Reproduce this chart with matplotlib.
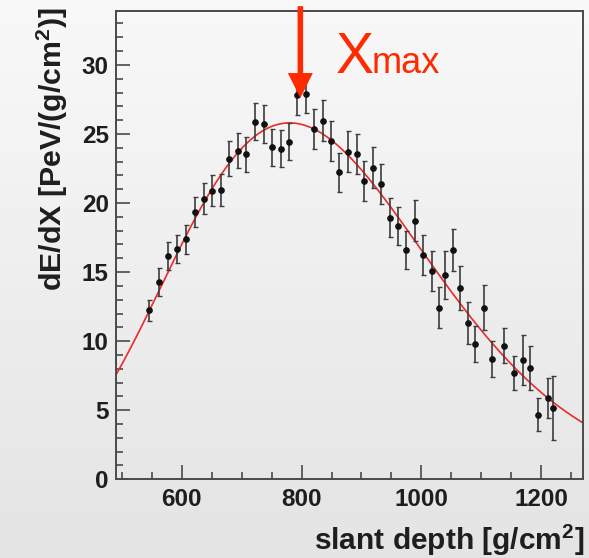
import numpy as np
import matplotlib
matplotlib.use("Agg")
import matplotlib.pyplot as plt
from matplotlib.patches import FancyArrowPatch
from matplotlib.ticker import MultipleLocator

# ---- data ----
depth = [546, 563, 578, 593, 608, 622, 637, 651, 666, 679, 694, 708, 723, 737,
         751, 765, 779, 793, 807, 821, 835, 849, 863, 877, 892, 905, 919, 933,
         947, 961, 975, 989, 1003, 1017, 1029, 1040, 1052, 1065, 1077, 1089,
         1104, 1118, 1137, 1154, 1169, 1181, 1195, 1211, 1220]
dedx = [12.24, 14.31, 16.17, 16.68, 17.38, 19.33, 20.30, 20.90, 20.95, 23.19,
        23.80, 23.53, 25.90, 25.73, 24.04, 23.92, 24.45, 27.83, 27.90, 25.37,
        25.97, 24.47, 22.23, 23.72, 23.56, 21.60, 22.57, 21.38, 18.95, 18.34,
        16.58, 18.73, 16.27, 15.08, 12.43, 14.79, 16.63, 13.88, 11.34, 9.80,
        12.43, 8.71, 9.68, 7.70, 8.64, 8.06, 4.68, 5.91, 5.16]
err = [0.75, 1.01, 1.04, 1.04, 1.06, 1.10, 1.13, 1.13, 1.17, 1.27, 1.27, 1.28,
       1.35, 1.38, 1.34, 1.34, 1.36, 1.45, 1.41, 1.44, 1.47, 1.45, 1.40, 1.46,
       1.47, 1.45, 1.50, 1.48, 1.39, 1.39, 1.38, 1.48, 1.45, 1.42, 1.47, 1.76,
       1.52, 1.59, 1.51, 1.28, 1.63, 1.27, 1.29, 1.24, 1.81, 1.56, 1.19, 1.45,
       2.34]

# Gaisser-Hillas fit parameters
XMAX = 780.0
NMAX = 25.8
X0 = 10.0
LAM = 60.0
ARROW_X = 798.0

xticks = [600, 800, 1000, 1200]
yticks = [0, 5, 10, 15, 20, 25, 30]

plt.rcParams['font.family'] = ['Liberation Sans', 'DejaVu Sans']
plt.rcParams['mathtext.fontset'] = 'custom'
plt.rcParams['mathtext.rm'] = 'Liberation Sans'
plt.rcParams['mathtext.bf'] = 'Liberation Sans:bold'

W, H = 589, 558
fig = plt.figure(figsize=(W / 100, H / 100), dpi=100)

# background gradient
bg = fig.add_axes([0, 0, 1, 1], zorder=-10)
grad = np.linspace(0, 1, 256).reshape(-1, 1)
top = np.array([0.975, 0.975, 0.975])
bot = np.array([0.895, 0.895, 0.895])
img = top[None, None, :] * (1 - grad[:, :, None]) + bot[None, None, :] * grad[:, :, None]
bg.imshow(img, aspect='auto', extent=[0, 1, 0, 1])
bg.axis('off')

def px(x0, y0, x1, y1):
    return [x0 / W, 1 - y1 / H, (x1 - x0) / W, (y1 - y0) / H]

ax = fig.add_axes(px(115.7, 11, 583.3, 479.3))
ax.patch.set_alpha(0)
ax.set_xlim(490, 1270)
ax.set_ylim(0, 33.9)

frame_col = '#4a4a4a'
for s in ax.spines.values():
    s.set_color(frame_col)
    s.set_linewidth(1.4)

ax.xaxis.set_major_locator(MultipleLocator(200))
ax.xaxis.set_minor_locator(MultipleLocator(50))
ax.yaxis.set_major_locator(MultipleLocator(5))
ax.yaxis.set_minor_locator(MultipleLocator(1))
ax.set_xticks(xticks)
ax.set_yticks(yticks)
ax.tick_params(which='both', direction='in', top=False, right=False, color=frame_col, width=1.2)
ax.tick_params(which='major', length=10)
ax.tick_params(which='minor', length=5)
ax.tick_params(axis='y', which='major', labelsize=17.5, pad=5, labelcolor='#1e1e1e')
ax.tick_params(axis='x', which='major', labelsize=17.5, pad=6.5, labelcolor='#1e1e1e')
for lab in ax.get_xticklabels() + ax.get_yticklabels():
    lab.set_fontweight('bold')

# fit curve
xc = np.linspace(490, 1270, 600)
w = (XMAX - X0) / LAM
yc = NMAX * ((xc - X0) / (XMAX - X0)) ** w * np.exp((XMAX - xc) / LAM)
ax.plot(xc, yc, color='#ec2a2a', lw=1.2, zorder=2)

# data
ax.errorbar(depth, dedx, yerr=err, fmt='o', ms=3.8, color='#111111',
            ecolor='#3c3c3c', elinewidth=1.2, capsize=1.8, capthick=1.0, zorder=3)

# arrow
arr = FancyArrowPatch((ARROW_X, 34.25), (ARROW_X, 27.6),
                      arrowstyle='simple,head_length=1.8,head_width=1.8,tail_width=0.4',
                      mutation_scale=10, color='#ff2a00', lw=0, shrinkA=0, shrinkB=0,
                      clip_on=False, zorder=5)
ax.add_patch(arr)

# Xmax label
fig.text(336 / W, 1 - 73 / H, 'X', fontsize=41, color='#ff2a00',
         ha='left', va='baseline', family=['Liberation Sans'])
fig.text(372 / W, 1 - 73 / H, 'max', fontsize=26, color='#ff2a00',
         ha='left', va='baseline', family=['Liberation Sans'])

# axis labels
fig.text(584 / W, 1 - 540 / H, r'slant depth [g/cm$^{\mathbf{2}}$]', fontsize=21.5,
         fontweight='bold', ha='right', va='center', color='#1e1e1e')
fig.text(52 / W, 1 - 7 / H, r'dE/dX [PeV/(g/cm$^{\mathbf{2}}$)]', fontsize=21.8,
         fontweight='bold', ha='center', va='top', rotation=90, color='#1e1e1e')

fig.savefig('out.png', dpi=100)
